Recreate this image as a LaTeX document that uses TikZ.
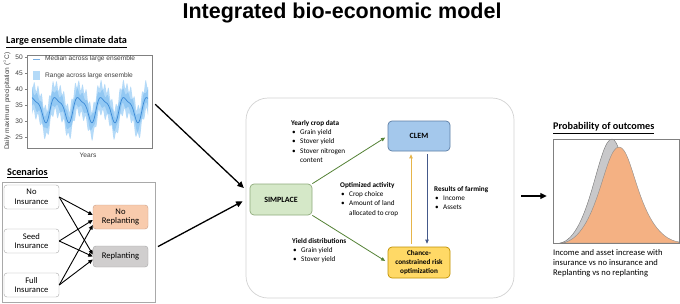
\documentclass[tikz,border=0pt]{standalone}
\usepackage{fontspec}
\setmainfont{Carlito}
\newfontfamily\titlefont{Liberation Sans}
\newfontfamily\chartfont{Liberation Sans}
\usetikzlibrary{arrows.meta}
\definecolor{BandBlue}{HTML}{B4DAF8}
\definecolor{CoreBlue}{HTML}{92C8F3}
\definecolor{MedBlue}{HTML}{3C8AD6}
\definecolor{AxisGrey}{HTML}{808080}
\definecolor{BoxLine}{HTML}{A6A6A6}
\definecolor{PaleLine}{HTML}{D3D3D3}
\definecolor{PeachFill}{HTML}{F8CBAD}
\definecolor{PeachLine}{HTML}{C9A08A}
\definecolor{GreyFill}{HTML}{D0CECE}
\definecolor{SimFill}{HTML}{D5E8C8}
\definecolor{SimLine}{HTML}{8FAA7C}
\definecolor{ClemFill}{HTML}{A4C8EC}
\definecolor{ClemLine}{HTML}{5E7FA6}
\definecolor{OptFill}{HTML}{FFD966}
\definecolor{OptLine}{HTML}{BF9000}
\definecolor{ArrGreen}{HTML}{548235}
\definecolor{ArrGold}{HTML}{E6B54A}
\definecolor{ArrBlue}{HTML}{44598A}
\definecolor{DistOrange}{HTML}{F4B183}
\definecolor{DistGrey}{HTML}{C8C8CA}
\newcommand\bul{\makebox[9pt][l]{\hspace{1pt}\textbullet}}
\tikzset{
  scenbox/.style={draw=BoxLine,fill=white,rounded corners=3pt,minimum width=55,minimum height=24,
    align=center,inner sep=1pt,font=\fontsize{8.6}{9.8}\selectfont},
  modelbox/.style={draw,rounded corners=4pt,line width=.7pt,minimum width=62,minimum height=31,
    align=center,inner sep=1pt,font=\bfseries\fontsize{8}{9.5}\selectfont},
  blurb/.style={anchor=north west,align=left,inner sep=0pt,font=\fontsize{7.2}{9.3}\selectfont},
  header/.style={anchor=west,inner sep=0pt,font=\bfseries\fontsize{10.2}{12}\selectfont},
  chartlbl/.style={inner sep=0pt,text=black!75,font=\chartfont\fontsize{6.6}{8}\selectfont},
  smallarrow/.style={-{Triangle[length=4.5pt,width=4pt]},line width=.9pt},
  bigarrow/.style={-{Triangle[length=6.5pt,width=6pt]},line width=1.3pt},
  flowarrow/.style={-{Triangle[length=4pt,width=3.5pt]},line width=.8pt,shorten <=3pt,shorten >=3pt}
}
\begin{document}
\begin{tikzpicture}[x=1pt,y=-1pt,
  declare function={med(\t)=34+3.6*sin((\t-28)*15.652)+1.1*sin((\t-28)*31.304+50);
                    py(\v)=105-3.2*(\v-35);}]
\path[use as bounding box] (0,0) rectangle (680,303);
\fill[white] (0,0) rectangle (680,303);
\node[font=\titlefont\bfseries\fontsize{21.5}{24}\selectfont,inner sep=0pt] (title) at (342,13) {Integrated bio-economic model};

% climate ensemble panel
\node[header] (climhead) at (6,42) {\underline{Large ensemble climate data}};
\fill[BandBlue] plot[domain=32:148,samples=300] (\x,{py(med(\x)+4.4+1.2*sin(97*\x))})
  -- plot[domain=148:32,samples=300] (\x,{py(med(\x)-4.4-1.2*sin(83*\x))}) -- cycle;
\fill[CoreBlue] plot[domain=32:148,samples=300] (\x,{py(med(\x)+2.2+0.7*sin(71*\x))})
  -- plot[domain=148:32,samples=300] (\x,{py(med(\x)-2.2-0.7*sin(61*\x))}) -- cycle;
\draw[MedBlue,line width=.7pt] plot[domain=32:148,samples=200,smooth] (\x,{py(med(\x))});
\node[draw=AxisGrey,line width=.6pt,minimum width=125,minimum height=93,inner sep=0pt] (chartframe) at (89.5,101.5) {};
\draw[AxisGrey,line width=.4pt] (25,57) -- (27,57);
\draw[AxisGrey,line width=.4pt] (25,73) -- (27,73);
\draw[AxisGrey,line width=.4pt] (25,89) -- (27,89);
\draw[AxisGrey,line width=.4pt] (25,105) -- (27,105);
\draw[AxisGrey,line width=.4pt] (25,121) -- (27,121);
\draw[AxisGrey,line width=.4pt] (25,137) -- (27,137);
\node[chartlbl,anchor=east] (t50) at (23,57) {50};
\node[chartlbl,anchor=east] (t45) at (23,73) {45};
\node[chartlbl,anchor=east] (t40) at (23,89) {40};
\node[chartlbl,anchor=east] (t35) at (23,105) {35};
\node[chartlbl,anchor=east] (t30) at (23,121) {30};
\node[chartlbl,anchor=east] (t25) at (23,137) {25};
\node[chartlbl,rotate=90] (ylabel) at (7,101) {Daily maximum precipitation ($^\circ$C)};
\node[chartlbl] (xlabel) at (88,155) {Years};
\draw[MedBlue!70,line width=.6pt] (33,59) -- (40,59);
\node[chartlbl,anchor=west] (legmed) at (45,59) {Median across large ensemble};
\fill[BandBlue] (33,71) rectangle (40,80);
\node[chartlbl,anchor=west] (legrange) at (45,75.5) {Range across large ensemble};

% scenarios panel
\node[header] (scenhead) at (7,173) {\underline{Scenarios}};
\node[draw=PaleLine!80!black,line width=.6pt,minimum width=153,minimum height=120,inner sep=0pt] (scenframe) at (78.5,242) {};
\node[scenbox] (noins) at (31.5,197) {No\\Insurance};
\node[scenbox] (seedins) at (31.5,241) {Seed\\Insurance};
\node[scenbox] (fullins) at (31.5,285) {Full\\Insurance};
\node[scenbox,fill=PeachFill,draw=PeachLine] (norepl) at (120.5,217) {No\\Replanting};
\node[scenbox,fill=GreyFill,minimum height=21] (repl) at (120.5,256.5) {Replanting};
\draw[smallarrow] (noins.east) -- ([yshift=2pt]norepl.west);
\draw[smallarrow] (noins.east) -- ([yshift=2pt]repl.west);
\draw[smallarrow] (seedins.east) -- ([yshift=-3pt]norepl.west);
\draw[smallarrow] (seedins.east) -- (repl.west);
\draw[smallarrow] (fullins.east) -- ([yshift=-8pt]norepl.west);
\draw[smallarrow] (fullins.east) -- ([yshift=-3pt]repl.west);

% bio-economic model
\node[draw=PaleLine,line width=.7pt,rounded corners=22pt,minimum width=268,minimum height=200,inner sep=0pt] (centre) at (380,198) {};
\node[modelbox,fill=SimFill,draw=SimLine] (simplace) at (281,199.5) {SIMPLACE};
\node[modelbox,fill=ClemFill,draw=ClemLine,minimum height=30] (clem) at (419,136) {CLEM};
\node[modelbox,fill=OptFill,draw=OptLine,font=\bfseries\fontsize{7.2}{9.3}\selectfont] (ccro) at (419,262.5) {Chance-\\constrained risk\\optimization};
\draw[bigarrow,shorten <=4pt,shorten >=8pt] (chartframe.east) -- ([yshift=6pt]simplace.west);
\draw[bigarrow,shorten <=3pt,shorten >=8pt] ([yshift=-6pt]scenframe.east) -- ([yshift=2pt]simplace.west);
\draw[flowarrow,ArrGreen,shorten <=0pt] (simplace.north east) -- (clem.west);
\draw[flowarrow,ArrGreen,shorten <=0pt] (simplace.south east) -- (ccro.west);
\draw[flowarrow,ArrGold] ([xshift=-8pt]ccro.north) -- ([xshift=-8pt]clem.south);
\draw[flowarrow,ArrBlue] ([xshift=8pt]clem.south) -- ([xshift=8pt]ccro.north);
\node[blurb] (cropdata) at (291,120) {\textbf{Yearly crop data}\\\bul Grain yield\\\bul Stover yield\\\bul Stover nitrogen\\\hspace*{9pt}content};
\node[blurb] (optact) at (340,182) {\textbf{Optimized activity}\\\bul Crop choice\\\bul Amount of land\\\hspace*{9pt}allocated to crop};
\node[blurb] (yielddist) at (292,238) {\textbf{Yield distributions}\\\bul Grain yield\\\bul Stover yield};
\node[blurb] (farmres) at (434,186) {\textbf{Results of farming}\\\bul Income\\\bul Assets};

% probability of outcomes
\node[header] (probhead) at (553,128) {\underline{Probability of outcomes}};
\node[minimum width=126,minimum height=104,inner sep=0pt] (probframe) at (616,191) {};
\draw[draw=black!55,fill=DistGrey,line width=.4pt] (560,243) .. controls (590,238) and (598,139) .. (612,139)
  .. controls (624,139) and (628,232) .. (668,243) -- cycle;
\draw[draw=black!45,fill=DistOrange,line width=.4pt] (562,243) .. controls (598,238) and (604,147) .. (619,147)
  .. controls (634,147) and (638,236) .. (679,242) -- (679,243) -- cycle;
\draw[AxisGrey,line width=.6pt] (probframe.south west) rectangle (probframe.north east);
\draw[bigarrow,shorten <=7pt,shorten >=6pt] ([yshift=2pt]centre.east) -- ([yshift=2pt]centre.east -| probframe.west);
\node[anchor=north west,align=left,inner sep=0pt,font=\fontsize{8.6}{10.4}\selectfont] (probnote) at (553,249)
  {Income and asset increase with\\insurance vs no insurance and\\Replanting vs no replanting};
\end{tikzpicture}
\end{document}
